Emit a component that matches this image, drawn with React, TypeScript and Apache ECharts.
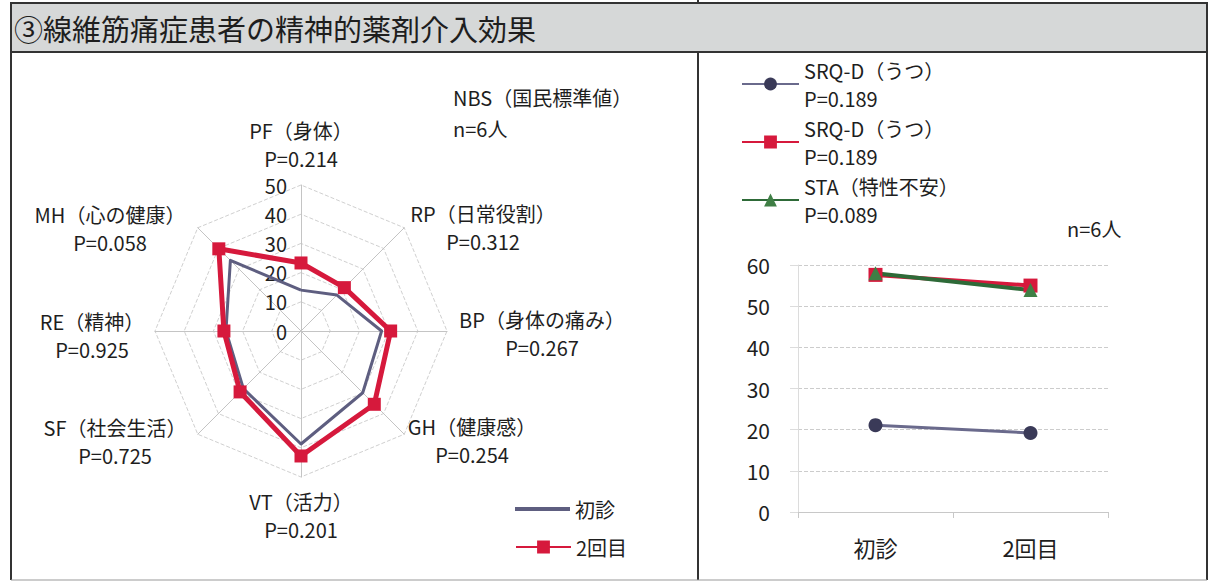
import React, { useEffect, useRef } from "react";
import * as echarts from "echarts";

// ---------- Data ----------
const titleText = "③線維筋痛症患者の精神的薬剤介入効果";

// Radar axes in clockwise order starting from the top
const radarAxes = ["PF（身体）", "RP（日常役割）", "BP（身体の痛み）", "GH（健康感）", "VT（活力）", "SF（社会生活）", "RE（精神）", "MH（心の健康）"];
const radarPValues = ["P=0.214", "P=0.312", "P=0.267", "P=0.254", "P=0.201", "P=0.725", "P=0.925", "P=0.058"];
const firstVisit = [14.0, 17.4, 27.6, 29.9, 38.7, 27.9, 25.7, 34.2];
const secondVisit = [23.3, 21.0, 30.7, 35.5, 42.8, 29.5, 26.4, 39.8];
const radarMax = 50;
const radarStep = 10;
const radarSeriesNames = ["初診", "2回目"];
const radarNotes = ["NBS（国民標準値）", "n=6人"];

// Line chart
const visits = ["初診", "2回目"];
const srqdA = [21.1, 19.2];
const srqdB = [57.6, 55.0];
const sta = [58.0, 53.9];
const lineKeys = ["srqdA", "srqdB", "sta"];
const lineLegendText = ["SRQ-D（うつ）\nP=0.189", "SRQ-D（うつ）\nP=0.189", "STA（特性不安）\nP=0.089"];
const lineMax = 60;
const lineStep = 10;
const lineNote = "n=6人";

// ---------- Layout ----------
const FONT = "'Noto Sans CJK JP', 'Noto Sans', sans-serif";
const INK = "#1e1e1e";
const C_GRAY = "#5e5e80";
const C_RED = "#d6193c";
const C_GREEN_LINE = "#2e6a38";
const C_GREEN = "#3f7f45";
const C_NAVY = "#3a3a58";

const RC = [301, 331];
const RR = 146;
// label centres (clockwise order)
const radarLabelPos = [
  [301, 144], [483, 227], [542, 333], [472, 440],
  [301, 515], [115, 441], [92, 335], [110, 228],
];

// ECharts radar goes counter-clockwise: map clockwise order to ccw
const ccw = [0, 7, 6, 5, 4, 3, 2, 1];

export default function App() {
  const ref = useRef<HTMLDivElement>(null);
  useEffect(() => {
    if (!ref.current) return;
    const chart = echarts.init(ref.current, null, { renderer: "svg" });

    const labelGraphics: any[] = radarAxes.map((name, i) => ({
      type: "text",
      x: radarLabelPos[i][0],
      y: radarLabelPos[i][1],
      silent: true,
      style: {
        text: name + "\n" + radarPValues[i],
        font: `20px ${FONT}`,
        fill: INK,
        align: "center",
        verticalAlign: "middle",
        lineHeight: 28,
      },
    }));

    const option: any = {
      animation: false,
      backgroundColor: "#ffffff",
      textStyle: { fontFamily: FONT },
      graphic: [
        { type: "rect", shape: { x: 11, y: 3, width: 1196, height: 49 }, style: { fill: "#d6d8d8", stroke: "#333", lineWidth: 2 }, silent: true },
        { type: "line", shape: { x1: 698, y1: 0, x2: 698, y2: 3 }, style: { stroke: "#333", lineWidth: 2 }, silent: true },
        { type: "line", shape: { x1: 11, y1: 52, x2: 11, y2: 580 }, style: { stroke: "#333", lineWidth: 2 }, silent: true },
        { type: "line", shape: { x1: 698, y1: 52, x2: 698, y2: 580 }, style: { stroke: "#333", lineWidth: 2 }, silent: true },
        { type: "line", shape: { x1: 1207, y1: 52, x2: 1207, y2: 580 }, style: { stroke: "#333", lineWidth: 2 }, silent: true },
        { type: "line", shape: { x1: 11, y1: 580, x2: 1207, y2: 580 }, style: { stroke: "#999", lineWidth: 1 }, silent: true },
        { type: "text", x: 14, y: 28, silent: true, style: { text: titleText, font: `29px ${FONT}`, fill: INK, verticalAlign: "middle" } },
        { type: "text", x: 453, y: 97, silent: true, style: { text: radarNotes[0], font: `20px ${FONT}`, fill: INK, verticalAlign: "middle" } },
        { type: "text", x: 453, y: 128, silent: true, style: { text: radarNotes[1], font: `20px ${FONT}`, fill: INK, verticalAlign: "middle" } },
        { type: "text", x: 1067, y: 228, silent: true, style: { text: lineNote, font: `20px ${FONT}`, fill: INK, verticalAlign: "middle" } },
        ...labelGraphics,
      ],
      legend: [
        {
          data: [{ name: radarSeriesNames[0], icon: "rect" }],
          left: 515, top: 497, padding: 0,
          itemWidth: 55, itemHeight: 4,
          itemStyle: { borderWidth: 0 },
          textStyle: { fontSize: 20, color: INK, lineHeight: 24, fontFamily: FONT },
          selectedMode: false,
        },
        {
          data: [radarSeriesNames[1]],
          left: 515, top: 535, padding: 0,
          itemWidth: 55, itemHeight: 16,
          textStyle: { fontSize: 20, color: INK, lineHeight: 24, fontFamily: FONT },
          selectedMode: false,
        },
        ...lineKeys.map((k, i) => ({
          data: [k],
          left: 741, top: 42 + i * 58, padding: 0,
          itemWidth: 57, itemHeight: 16,
          formatter: () => lineLegendText[i],
          textStyle: { fontSize: 20, color: INK, lineHeight: 28, padding: [28, 0, 0, 0], fontFamily: FONT },
          selectedMode: false,
        })),
      ],
      radar: {
        center: RC,
        radius: RR,
        startAngle: 90,
        shape: "polygon",
        splitNumber: radarMax / radarStep,
        indicator: ccw.map(() => ({ name: "", min: 0, max: radarMax })),
        axisName: { show: false },
        axisLine: { lineStyle: { color: "#c4c4c4", width: 1 } },
        splitLine: { lineStyle: { color: "#d0d0d0", type: "dashed", width: 1 } },
        splitArea: { show: false },
        axisLabel: { show: false },
      },
      grid: [
        { left: 798, right: 102, top: 265, bottom: 70 },
        { left: RC[0], top: RC[1] - RR, width: 1, height: RR },
      ],
      xAxis: [
        {
          type: "category", gridIndex: 0, data: visits, boundaryGap: true,
          axisLine: { lineStyle: { color: "#c8c8c8" } },
          axisTick: { show: true, length: 6, lineStyle: { color: "#c8c8c8" } },
          axisLabel: { fontSize: 22, color: INK, margin: 24 },
        },
        { type: "value", gridIndex: 1, show: false, min: 0, max: 1 },
      ],
      yAxis: [
        {
          type: "value", gridIndex: 0, min: 0, max: lineMax, interval: lineStep,
          axisLine: { show: true, lineStyle: { color: "#dcdcdc" } },
          axisTick: { show: true, length: 8, lineStyle: { color: "#dcdcdc" } },
          splitLine: { lineStyle: { color: "#cccccc", type: "dashed" } },
          axisLabel: { fontSize: 21, color: INK, margin: 28 },
        },
        {
          type: "value", gridIndex: 1, min: 0, max: radarMax, interval: radarStep,
          axisLine: { show: false }, axisTick: { show: false }, splitLine: { show: false },
          axisLabel: { fontSize: 20, color: INK, margin: 14 },
        },
      ],
      series: [
        {
          type: "radar",
          z: 3,
          data: [
            {
              name: radarSeriesNames[0],
              value: ccw.map((i) => firstVisit[i]),
              symbol: "none",
              lineStyle: { color: C_GRAY, width: 3 },
              itemStyle: { color: C_GRAY },
            },
            {
              name: radarSeriesNames[1],
              value: ccw.map((i) => secondVisit[i]),
              symbol: "rect",
              symbolSize: 13,
              lineStyle: { color: C_RED, width: 5 },
              itemStyle: { color: C_RED },
            },
          ],
        },
        // legend proxy for the radar's second series
        {
          type: "line", name: radarSeriesNames[1], xAxisIndex: 1, yAxisIndex: 1, data: [],
          symbol: "rect", lineStyle: { color: C_RED, width: 5 }, itemStyle: { color: C_RED },
        },
        {
          type: "line", name: lineKeys[0], xAxisIndex: 0, yAxisIndex: 0, data: srqdA,
          symbol: "circle", symbolSize: 14,
          lineStyle: { color: "#6a6a8c", width: 3 }, itemStyle: { color: C_NAVY, borderWidth: 0 },
        },
        {
          type: "line", name: lineKeys[1], xAxisIndex: 0, yAxisIndex: 0, data: srqdB,
          symbol: "rect", symbolSize: 14,
          lineStyle: { color: C_RED, width: 4 }, itemStyle: { color: C_RED, borderWidth: 0 },
        },
        {
          type: "line", name: lineKeys[2], xAxisIndex: 0, yAxisIndex: 0, data: sta,
          symbol: "triangle", symbolSize: 14,
          lineStyle: { color: C_GREEN_LINE, width: 4 }, itemStyle: { color: C_GREEN, borderWidth: 0 },
        },
      ],
    };

    chart.setOption(option);
    return () => chart.dispose();
  }, []);

  return (
    <div
      ref={ref}
      style={{ position: "fixed", left: 0, top: 0, width: 1210, height: 582, background: "#fff" }}
    />
  );
}
